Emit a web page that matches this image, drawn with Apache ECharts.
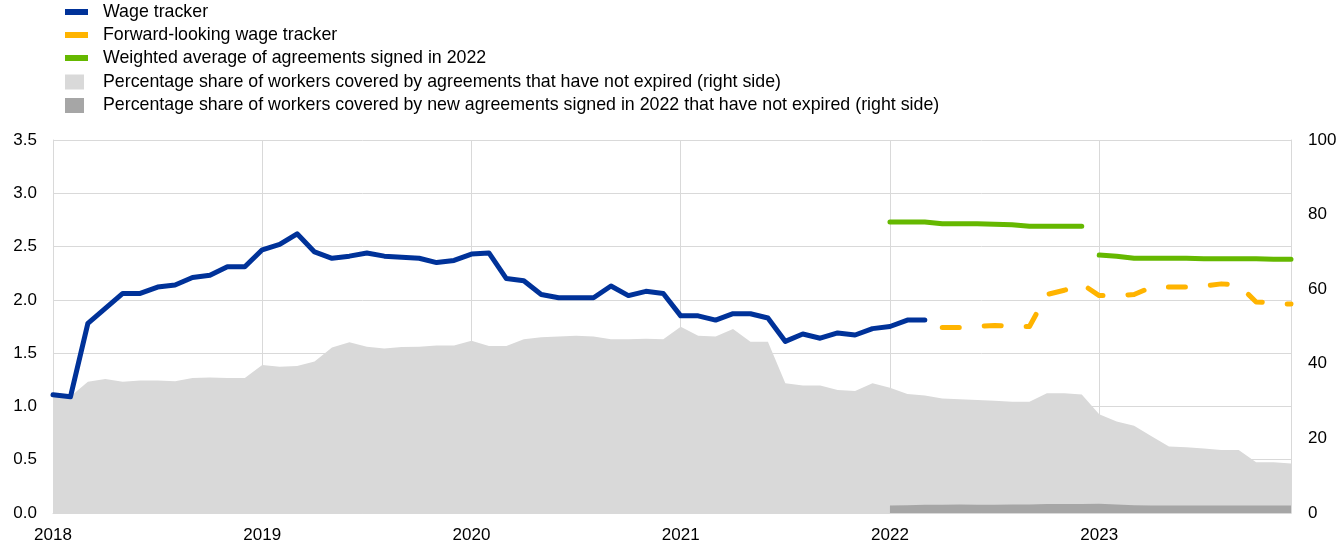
<!DOCTYPE html>
<html>
<head>
<meta charset="utf-8">
<script src="https://cdn.jsdelivr.net/npm/echarts@6/dist/echarts.min.js"></script>
<style>
  html, body { margin: 0; padding: 0; background: #fff; }
  #chart { width: 1342px; height: 546px; }
</style>
</head>
<body>
<div id="chart"></div>
<script>
// monthly categories Jan 2018 - Dec 2023
var months = [];
for (var y = 2018; y <= 2023; y++) {
    for (var m = 1; m <= 12; m++) {
        months.push(y + '-' + (m < 10 ? '0' + m : m));
    }
}

// wage tracker, Jan 2018 - Mar 2022
var wageTracker = [
    1.11, 1.09, 1.78, 1.92, 2.06, 2.06, 2.12, 2.14, 2.21, 2.23, 2.31, 2.31,
    2.47, 2.52, 2.62, 2.45, 2.39, 2.41, 2.44, 2.41, 2.40, 2.39, 2.35, 2.37,
    2.43, 2.44, 2.20, 2.18, 2.05, 2.02, 2.02, 2.02, 2.13, 2.04, 2.08, 2.06,
    1.85, 1.85, 1.81, 1.87, 1.87, 1.83, 1.61, 1.68, 1.64, 1.69, 1.67, 1.73,
    1.75, 1.81, 1.81
];
// forward-looking wage tracker, Apr 2022 - Dec 2023
var forwardTracker = [
    1.74, 1.74, 1.75, 1.76, 1.75, 1.75, 2.05, 2.09, 2.15,
    2.04, 2.04, 2.05, 2.12, 2.12, 2.12, 2.13, 2.15, 2.14, 1.98, 1.97, 1.96
];
// weighted average of agreements signed in 2022
var weighted2022 = [2.73, 2.73, 2.73, 2.715, 2.715, 2.715, 2.71, 2.705, 2.69, 2.69, 2.69, 2.69];
var weighted2023 = [2.42, 2.41, 2.39, 2.39, 2.39, 2.39, 2.385, 2.385, 2.385, 2.385, 2.38, 2.38];
// share of workers covered by agreements not expired (right side), Jan 2018 - Dec 2023
var shareCovered = [
    31.5, 31.2, 35.2, 35.9, 35.2, 35.5, 35.5, 35.3, 36.2, 36.3, 36.2, 36.2,
    39.7, 39.2, 39.4, 40.6, 44.4, 45.8, 44.6, 44.1, 44.5, 44.6, 44.9, 44.9,
    46.2, 44.8, 44.8, 46.6, 47.1, 47.3, 47.5, 47.3, 46.6, 46.6, 46.7, 46.6,
    49.9, 47.5, 47.3, 49.3, 45.9, 45.9, 34.8, 34.2, 34.2, 33.0, 32.7, 34.8,
    33.6, 31.9, 31.5, 30.7, 30.5, 30.3, 30.1, 29.8, 29.8, 32.1, 32.1, 31.8,
    26.5, 24.5, 23.4, 20.6, 17.8, 17.6, 17.3, 16.9, 16.9, 13.6, 13.6, 13.3
];
// share covered by new 2022 agreements (right side), Jan 2022 - Dec 2023
var shareNew2022 = [
    2.0, 2.1, 2.2, 2.2, 2.3, 2.2, 2.2, 2.3, 2.3, 2.4, 2.4, 2.4,
    2.5, 2.3, 2.1, 2.0, 2.0, 2.0, 2.0, 2.0, 2.0, 2.0, 2.0, 2.0
];

var names = [
    'Wage tracker',
    'Forward-looking wage tracker',
    'Weighted average of agreements signed in 2022',
    'Percentage share of workers covered by agreements that have not expired (right side)',
    'Percentage share of workers covered by new agreements signed in 2022 that have not expired (right side)'
];
var colors = ['#003299', '#ffb400', '#65b800', '#d9d9d9', '#a6a6a6'];

function placeAt(start, values) {
    var out = [];
    for (var i = 0; i < months.length; i++) {
        var k = i - start;
        out.push(k >= 0 && k < values.length ? values[k] : null);
    }
    return out;
}

var idx2022 = months.indexOf('2022-01');
var idx2023 = months.indexOf('2023-01');
var idxApr22 = months.indexOf('2022-04');

var font = 'Liberation Sans, Arial, sans-serif';
var gridColor = '#d9d9d9';

var myChart = echarts.init(document.getElementById('chart'));
var option = {
    animation: false,
    textStyle: { fontFamily: font },
    legend: [
        {
            orient: 'vertical',
            left: 65,
            top: 3,
            padding: 0,
            itemWidth: 23,
            itemHeight: 6,
            itemGap: 5,
            icon: 'rect',
            textStyle: { fontSize: 17.8, color: '#000', fontFamily: font, padding: [0, 0, 0, 10] },
            data: [
                { name: names[0], itemStyle: { color: colors[0], borderWidth: 0 } },
                { name: names[1], itemStyle: { color: colors[1], borderWidth: 0 } },
                { name: names[2], itemStyle: { color: colors[2], borderWidth: 0 } }
            ]
        },
        {
            orient: 'vertical',
            left: 65,
            top: 73,
            padding: 0,
            itemWidth: 19,
            itemHeight: 15,
            itemGap: 5.5,
            icon: 'rect',
            textStyle: { fontSize: 17.8, color: '#000', fontFamily: font, padding: [0, 0, 0, 14] },
            data: [
                { name: names[3], itemStyle: { color: colors[3], borderWidth: 0 } },
                { name: names[4], itemStyle: { color: colors[4], borderWidth: 0 } }
            ]
        }
    ],
    grid: { left: 53, right: 51, top: 140, bottom: 33 },
    xAxis: {
        type: 'category',
        data: months,
        boundaryGap: false,
        axisLine: { lineStyle: { color: gridColor, width: 1 } },
        axisTick: { show: false },
        axisLabel: {
            interval: function (i) { return i % 12 === 0; },
            formatter: function (v) { return v.slice(0, 4); },
            fontSize: 17,
            color: '#000',
            margin: 14
        },
        splitLine: {
            show: true,
            interval: function (i) { return i % 12 === 0; },
            lineStyle: { color: gridColor, width: 1 }
        }
    },
    yAxis: [
        {
            type: 'value',
            min: 0,
            max: 3.5,
            interval: 0.5,
            axisLine: { show: true, lineStyle: { color: gridColor } },
            axisTick: { show: false },
            axisLabel: {
                fontSize: 17,
                color: '#000',
                margin: 16,
                formatter: function (v) { return v.toFixed(1); }
            },
            splitLine: { lineStyle: { color: gridColor, width: 1 } }
        },
        {
            type: 'value',
            min: 0,
            max: 100,
            interval: 20,
            position: 'right',
            axisLine: { show: true, lineStyle: { color: gridColor } },
            axisTick: { show: false },
            axisLabel: { fontSize: 17, color: '#000', margin: 17 },
            splitLine: { show: false }
        }
    ],
    series: [
        {
            name: names[3],
            type: 'line',
            yAxisIndex: 1,
            data: shareCovered,
            showSymbol: false,
            color: colors[3],
            lineStyle: { width: 0 },
            areaStyle: { color: colors[3], opacity: 1 },
            z: 1
        },
        {
            name: names[4],
            type: 'line',
            yAxisIndex: 1,
            data: placeAt(idx2022, shareNew2022),
            showSymbol: false,
            color: colors[4],
            lineStyle: { width: 0 },
            areaStyle: { color: colors[4], opacity: 1 },
            z: 2
        },
        {
            name: names[0],
            type: 'line',
            data: placeAt(0, wageTracker),
            showSymbol: false,
            color: colors[0],
            lineStyle: { width: 5, cap: 'round', join: 'round' },
            z: 5
        },
        {
            name: names[1],
            type: 'line',
            data: placeAt(idxApr22, forwardTracker),
            showSymbol: false,
            color: colors[1],
            lineStyle: { width: 5, type: [17, 25], cap: 'round', join: 'round' },
            z: 5
        },
        {
            name: names[2],
            type: 'line',
            data: placeAt(idx2022, weighted2022),
            showSymbol: false,
            color: colors[2],
            lineStyle: { width: 5, cap: 'round', join: 'round' },
            z: 5
        },
        {
            name: names[2],
            type: 'line',
            data: placeAt(idx2023, weighted2023),
            showSymbol: false,
            color: colors[2],
            lineStyle: { width: 5, cap: 'round', join: 'round' },
            z: 5
        }
    ]
};
myChart.setOption(option);
window.addEventListener('resize', function () {
    myChart.resize();
});
</script>
</body>
</html>
